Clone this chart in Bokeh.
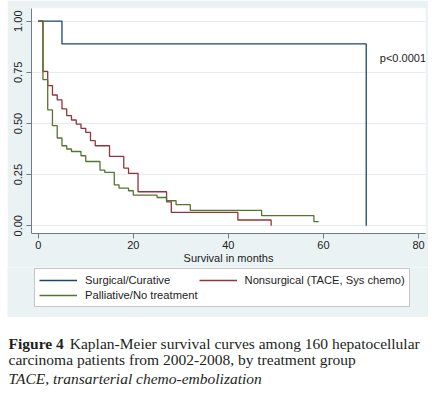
from bokeh.plotting import figure
from bokeh.models import Legend, LegendItem, Label, FixedTicker, NumeralTickFormatter, Range1d, Spacer
from bokeh.layouts import column, row
from bokeh.embed import file_html
from bokeh.resources import INLINE

# ---- data ----
surg_t = [0, 5, 69]
surg_s = [1.0, 0.889, 0.0]

nons_t = [0, 1, 2, 3, 4, 5, 6, 7, 8, 9, 10, 11, 12, 15, 18, 19, 21, 27, 28, 42, 49]
nons_s = [1.0, 0.755, 0.685, 0.639, 0.615, 0.571, 0.538, 0.517, 0.497, 0.476, 0.456,
          0.416, 0.391, 0.339, 0.282, 0.256, 0.166, 0.117, 0.065, 0.028, 0.0]

pall_t = [0, 1, 2, 3, 4, 5, 6, 7, 9, 10, 13, 14, 16, 17, 19, 20, 25, 27, 29, 32, 47, 58, 59]
pall_s = [1.0, 0.714, 0.566, 0.489, 0.429, 0.391, 0.375, 0.363, 0.342, 0.314, 0.272,
          0.261, 0.200, 0.184, 0.171, 0.150, 0.138, 0.122, 0.103, 0.075, 0.049, 0.020, 0.020]

x_ticks = [0, 20, 40, 60, 80]
y_ticks = [0, 0.25, 0.5, 0.75, 1.0]
labels = ["Surgical/Curative", "Nonsurgical (TACE, Sys chemo)", "Palliative/No treatment"]
colors = ["#1a476f", "#90353b", "#55752f"]
p_text = "p<0.0001"
x_label = "Survival in months"

BG = "#eaf2f3"
AXC = "#6f7c88"
SANS = "Liberation Sans"
SERIF = "Liberation Serif"

# ---- main plot ----
p = figure(frame_width=394, frame_height=225,
           x_range=Range1d(-1.41, 81.47), y_range=Range1d(-0.038, 1.062),
           output_backend="svg", toolbar_location=None,
           min_border_left=24, min_border_right=3, min_border_top=8, min_border_bottom=34)
p.frame_align = False
p.background_fill_color = "white"
p.border_fill_color = BG
p.outline_line_color = None

p.step(surg_t, surg_s, mode="after", line_color=colors[0], line_width=1.3)
p.step(nons_t, nons_s, mode="after", line_color=colors[1], line_width=1.3)
p.step(pall_t, pall_s, mode="after", line_color=colors[2], line_width=1.3)

p.xaxis.ticker = FixedTicker(ticks=x_ticks)
p.yaxis.ticker = FixedTicker(ticks=y_ticks)
p.yaxis.formatter = NumeralTickFormatter(format="0.00")
p.yaxis.major_label_orientation = "vertical"
for ax in (p.xaxis[0], p.yaxis[0]):
    ax.axis_line_color = AXC
    ax.major_tick_line_color = AXC
    ax.minor_tick_line_color = None
    ax.major_tick_out = 5
    ax.major_tick_in = 0
    ax.major_label_text_font = SANS
    ax.major_label_text_font_size = "11px"
    ax.major_label_text_color = "#222222"
p.xaxis.major_label_standoff = 2
p.yaxis.major_label_standoff = 4
p.xaxis.axis_label = x_label
p.xaxis.axis_label_text_font = SANS
p.xaxis.axis_label_text_font_size = "11px"
p.xaxis.axis_label_text_font_style = "normal"
p.xaxis.axis_label_text_color = "#222222"
p.xaxis.axis_label_standoff = 0

p.xgrid.visible = False
p.ygrid.ticker = FixedTicker(ticks=y_ticks)
p.ygrid.grid_line_color = "#e4ecef"
p.ygrid.grid_line_width = 1

p.add_layout(Label(x=71.86, y=0.82, text=p_text, text_font=SANS, text_font_size="11px",
                   text_baseline="middle", text_color="#222222"))

# ---- legend strip (series drawn out of view; only the legend shows) ----
lf = figure(width=421, height=50, output_backend="svg", toolbar_location=None,
            x_axis_location=None, y_axis_location=None, min_border=0,
            x_range=Range1d(1000, 1001), y_range=Range1d(1000, 1001))
lf.frame_align = False
lf.outline_line_color = None
lf.grid.visible = False
lf.background_fill_color = BG
lf.border_fill_color = BG
series = [(surg_t, surg_s), (nons_t, nons_s), (pall_t, pall_s)]
lr = [lf.line(t, s, line_color=c, line_width=1.3) for (t, s), c in zip(series, colors)]
legend = Legend(items=[LegendItem(label=lab, renderers=[r]) for lab, r in zip(labels, lr)],
                location=(27, 10), orientation="horizontal", ncols=2)
legend.label_text_font = SANS
legend.label_text_font_size = "11.2px"
legend.label_text_color = "#222222"
legend.glyph_width = 38
legend.glyph_height = 14
legend.label_height = 14
legend.label_standoff = 8
legend.padding = 4
legend.spacing = 1
legend.margin = 0
legend.border_line_color = "#8a8f94"
legend.border_line_width = 1
legend.background_fill_color = "white"
legend.background_fill_alpha = 1
lf.add_layout(legend)

# ---- caption ----
cap = figure(width=442, height=79, output_backend="svg", toolbar_location=None,
             x_axis_location=None, y_axis_location=None, min_border=0,
             x_range=Range1d(0, 442), y_range=Range1d(0, 79))
cap.frame_align = False
cap.outline_line_color = None
cap.grid.visible = False
cap.background_fill_color = "white"
cap.border_fill_color = "white"
ccol = "#231f20"
cap.add_layout(Label(x=8, y=53.3, x_units="screen", y_units="screen", text="Figure 4",
                     text_font=SERIF, text_font_size="15.5px", text_font_style="bold",
                     text_color=ccol, text_baseline="alphabetic"))
cap.add_layout(Label(x=69.3, y=53.3, x_units="screen", y_units="screen",
                     text="Kaplan-Meier survival curves among 160 hepatocellular",
                     text_font=SERIF, text_font_size="15.5px", text_color=ccol,
                     text_baseline="alphabetic"))
cap.add_layout(Label(x=8, y=36.7, x_units="screen", y_units="screen",
                     text="carcinoma patients from 2002-2008, by treatment group",
                     text_font=SERIF, text_font_size="15.5px", text_color=ccol,
                     text_baseline="alphabetic"))
cap.add_layout(Label(x=8, y=18.3, x_units="screen", y_units="screen",
                     text="TACE, transarterial chemo-embolization",
                     text_font=SERIF, text_font_size="15.5px", text_font_style="italic",
                     text_color=ccol, text_baseline="alphabetic"))

layout = column(row(Spacer(width=7), p, spacing=0),
                row(Spacer(width=7), lf, spacing=0),
                cap, spacing=0)
open("out.html", "w").write(file_html(layout, INLINE))
